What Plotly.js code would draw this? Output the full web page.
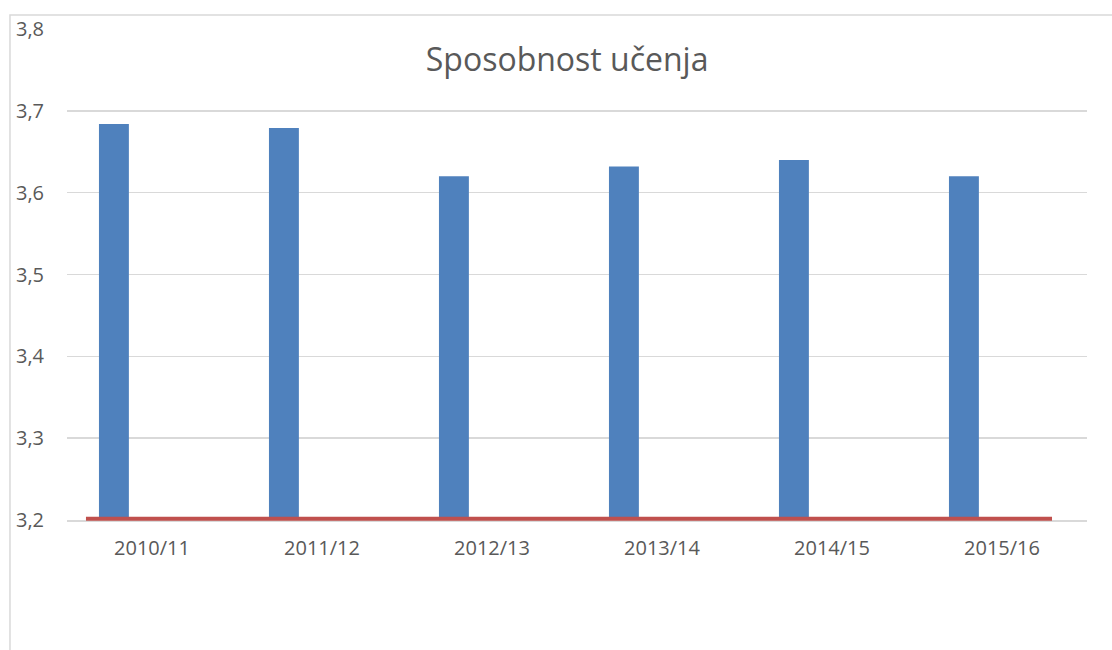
<!DOCTYPE html>
<html>
<head>
<meta charset="utf-8">
<script src="https://cdn.plot.ly/plotly-3.0.1.min.js"></script>
<style>html,body{margin:0;padding:0;background:#fff;}#chart{width:1112px;height:650px;}</style>
</head>
<body>
<div id="chart"></div>
<script>
var categories = ["2010/11", "2011/12", "2012/13", "2013/14", "2014/15", "2015/16"];
var values = [3.684, 3.679, 3.620, 3.632, 3.640, 3.620];
var referenceValue = 3.2;
var yTicks = [3.2, 3.3, 3.4, 3.5, 3.6, 3.7, 3.8];
var yTickLabels = ["3,2", "3,3", "3,4", "3,5", "3,6", "3,7", "3,8"];
var yRange = [3.2, 3.8];

var fontFam = "'Open Sans', 'Liberation Sans', sans-serif";

var bars = {
  type: "bar",
  x: categories,
  y: values,
  base: 0,
  width: 0.176,
  offset: -0.312,
  marker: {color: "#4f81bd"},
  hoverinfo: "x+y"
};

// reference line position in paper units (not clipped to the plot area)
var refPaperY = (referenceValue - yRange[0]) / (yRange[1] - yRange[0]) + 0.0027;

var layout = {
  width: 1112,
  height: 650,
  margin: {l: 67, r: 25, t: 29, b: 130},
  paper_bgcolor: "#ffffff",
  plot_bgcolor: "#ffffff",
  showlegend: false,
  separators: ",.",
  title: {
    text: "Sposobnost učenja",
    font: {family: fontFam, size: 32, color: "#595959"},
    x: 0.51, xanchor: "center",
    y: 0.908, yanchor: "middle", yref: "container"
  },
  xaxis: {
    type: "category",
    showgrid: false,
    showline: true,
    linecolor: "#d9d9d9",
    linewidth: 1.5,
    ticks: "",
    tickfont: {family: fontFam, size: 20, color: "#595959"},
    ticklabelstandoff: 9
  },
  yaxis: {
    range: yRange,
    tickvals: yTicks,
    ticktext: yTickLabels,
    showgrid: true,
    gridcolor: "#d9d9d9",
    gridwidth: 1.5,
    zeroline: false,
    showline: false,
    ticks: "",
    tickfont: {family: fontFam, size: 20, color: "#595959"},
    ticklabelstandoff: 22
  },
  shapes: [
    {type: "line", xref: "paper", yref: "paper", x0: 0.0186, x1: 0.9657,
     y0: refPaperY, y1: refPaperY,
     line: {color: "#c0504d", width: 4}},
    {type: "rect", xref: "paper", yref: "paper", x0: -0.0559, x1: 1.05, y0: -0.3, y1: 1.0285,
     line: {color: "#d9d9d9", width: 1.5}, fillcolor: "rgba(0,0,0,0)", layer: "below"}
  ]
};

Plotly.newPlot("chart", [bars], layout, {displayModeBar: false, staticPlot: true});
</script>
</body>
</html>
